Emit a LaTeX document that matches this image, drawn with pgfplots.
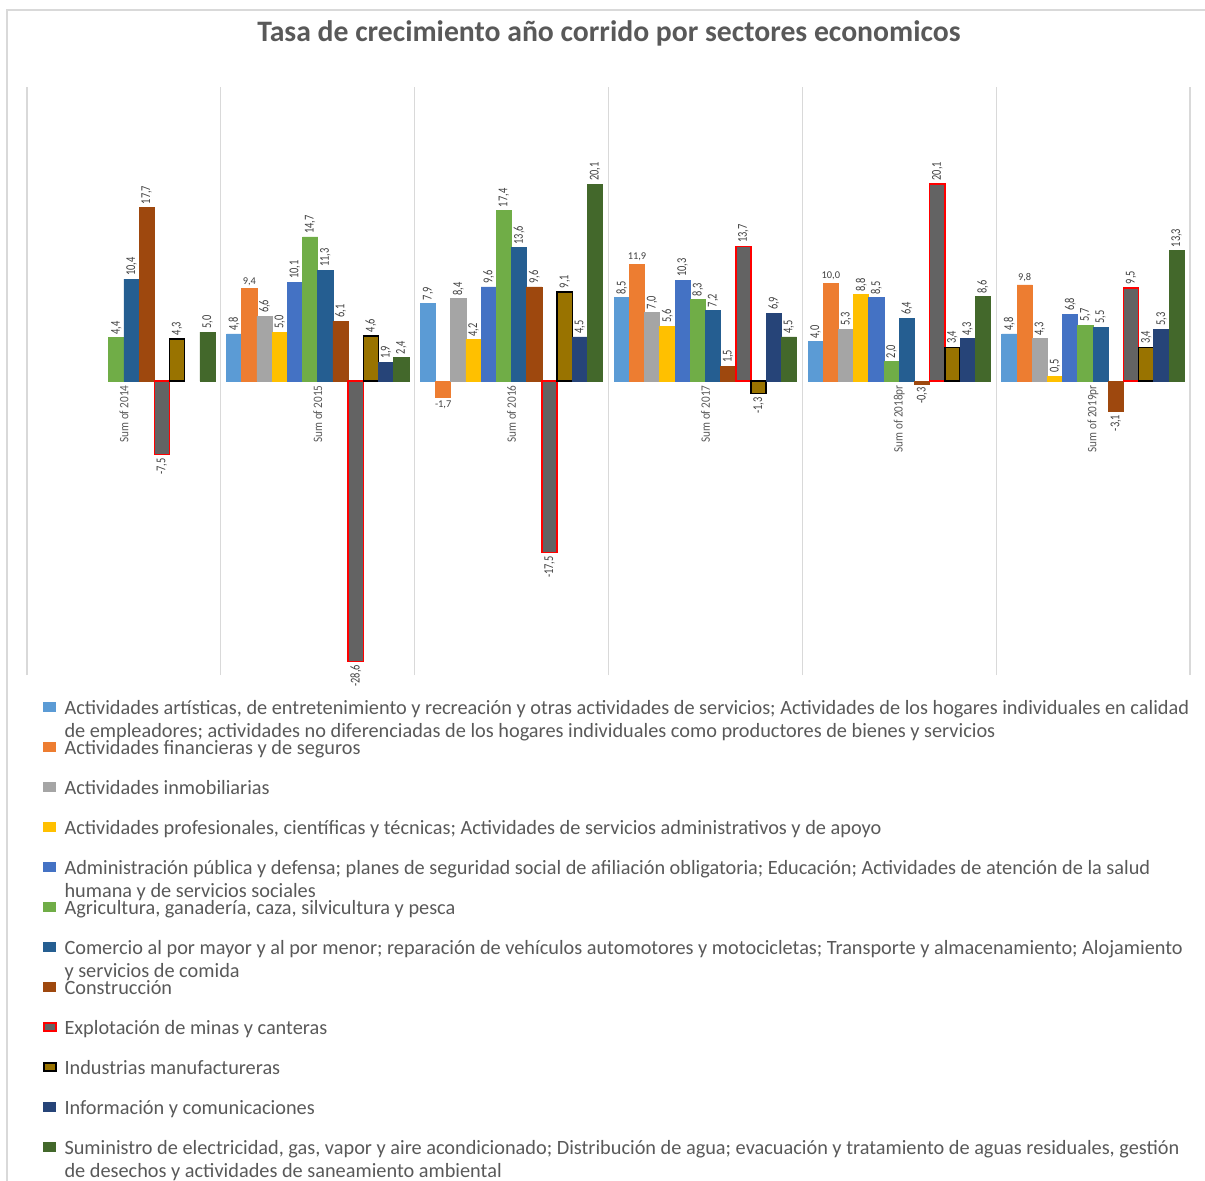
\documentclass[border=0pt]{standalone}
\usepackage{pgfplots}
\pgfplotsset{compat=1.18}
\usepackage{fontspec}
\setmainfont{Carlito}
\definecolor{c1}{HTML}{5B9BD5}
\definecolor{c2}{HTML}{ED7D31}
\definecolor{c3}{HTML}{A5A5A5}
\definecolor{c4}{HTML}{FFC000}
\definecolor{c5}{HTML}{4472C4}
\definecolor{c6}{HTML}{70AD47}
\definecolor{c7}{HTML}{255E91}
\definecolor{c8}{HTML}{9E480E}
\definecolor{c9}{HTML}{636363}
\definecolor{c10}{HTML}{997300}
\definecolor{c11}{HTML}{264478}
\definecolor{c12}{HTML}{43682B}
\definecolor{gridgray}{HTML}{D9D9D9}
\definecolor{titlegray}{HTML}{595959}
\definecolor{labelgray}{HTML}{404040}

\pgfplotsset{
  vl/.style={every node near coord/.append style={rotate=90, yscale=1.3, anchor=#1}},
  hl/.style={every node near coord/.append style={anchor=#1}},
}

\begin{document}
\begin{tikzpicture}
\path[use as bounding box] (0pt,0pt) rectangle (602.5pt,-590.5pt);
\draw[gridgray, line width=0.8pt] (3.5pt,-600pt) -- (3.5pt,-5pt) -- (610pt,-5pt);
\node[anchor=base, font=\fontsize{14.85}{17}\selectfont\bfseries, text=titlegray] at (304.5pt,-21pt) {Tasa de crecimiento año corrido por sectores economicos};
\begin{axis}[
  at={(13.5pt,-337.5pt)}, anchor=south west,
  width=581.5pt, height=294pt, scale only axis,
  xmin=-0.5, xmax=5.5, ymin=-30, ymax=30,
  clip=false,
  ybar=0pt, bar width=7.6pt,
  axis x line=middle, axis y line=none,
  axis line style={draw=none},
  xtick={0,1,2,3,4,5},
  xticklabels={Sum of 2014,Sum of 2015,Sum of 2016,Sum of 2017,Sum of 2018pr,Sum of 2019pr},
  xticklabel style={rotate=90, yscale=1.15, anchor=east, font=\fontsize{5.6}{6.5}\selectfont, text=titlegray, inner sep=2pt},
  major tick length=0pt, minor tick length=0pt,
  minor xtick={-0.5,0.5,...,5.5},
  xminorgrids=true,
  minor x grid style={gridgray, line width=0.6pt},
  ytick=\empty,
  nodes near coords={\pgfmathprintnumber[fixed, fixed zerofill, precision=1, use comma, assume math mode=true]{\pgfplotspointmeta}},
  every node near coord/.append style={font=\fontsize{5.2}{6.5}\selectfont, text=labelgray, inner sep=1.5pt},
  legend cell align=left,
  legend image code/.code={\draw[#1] (0pt,-2.1pt) rectangle (6pt,2.1pt);},
  legend style={at={(0.01376,-0.04252)}, anchor=north west, draw=none, fill=none,
    inner sep=0pt, outer sep=0pt, row sep=13pt, column sep=4pt,
    font=\fontsize{10.15}{11.5}\selectfont, text=titlegray,
    nodes={inner sep=0pt, text height=7pt, text depth=0pt}},
]
\addplot[bar shift=-41.8pt, fill=c1, draw=c1, vl=west] coordinates {(1,4.8) (2,7.9) (3,8.5) (4,4.0) (5,4.8)};
\addlegendentry{\begin{tabular}[t]{@{}l@{}}Actividades artísticas, de entretenimiento y recreación y otras actividades de servicios; Actividades de los hogares individuales en calidad\\ de empleadores; actividades no diferenciadas de los hogares individuales como productores de bienes y servicios\end{tabular}}
\addplot[bar shift=-34.2pt, fill=c2, draw=c2, hl=south] coordinates {(1,9.4) (3,11.9) (4,10.0) (5,9.8)};
\addlegendentry{Actividades financieras y de seguros}
\addplot[bar shift=-34.2pt, fill=c2, draw=c2, hl=north, forget plot] coordinates {(2,-1.7)};
\addplot[bar shift=-26.6pt, fill=c3, draw=c3, vl=west] coordinates {(1,6.6) (2,8.4) (3,7.0) (4,5.3) (5,4.3)};
\addlegendentry{Actividades inmobiliarias}
\addplot[bar shift=-19pt, fill=c4, draw=c4, vl=west] coordinates {(1,5.0) (2,4.2) (3,5.6) (4,8.8) (5,0.5)};
\addlegendentry{Actividades profesionales, científicas y técnicas; Actividades de servicios administrativos y de apoyo}
\addplot[bar shift=-11.4pt, fill=c5, draw=c5, vl=west] coordinates {(1,10.1) (2,9.6) (3,10.3) (4,8.5) (5,6.8)};
\addlegendentry{\begin{tabular}[t]{@{}l@{}}Administración pública y defensa; planes de seguridad social de afiliación obligatoria; Educación; Actividades de atención de la salud\\ humana y de servicios sociales\end{tabular}}
\addplot[bar shift=-3.8pt, fill=c6, draw=c6, vl=west] coordinates {(0,4.4) (1,14.7) (2,17.4) (3,8.3) (4,2.0) (5,5.7)};
\addlegendentry{Agricultura, ganadería, caza, silvicultura y pesca}
\addplot[bar shift=3.8pt, fill=c7, draw=c7, vl=west] coordinates {(0,10.4) (1,11.3) (2,13.6) (3,7.2) (4,6.4) (5,5.5)};
\addlegendentry{\begin{tabular}[t]{@{}l@{}}Comercio al por mayor y al por menor; reparación de vehículos automotores y motocicletas; Transporte y almacenamiento; Alojamiento\\ y servicios de comida\end{tabular}}
\addplot[bar shift=11.4pt, fill=c8, draw=c8, vl=west] coordinates {(0,17.7) (1,6.1) (2,9.6) (3,1.5)};
\addlegendentry{Construcción}
\addplot[bar shift=11.4pt, fill=c8, draw=c8, vl=east, forget plot] coordinates {(4,-0.3) (5,-3.1)};
\addplot[bar shift=19pt, fill=c9, draw=red, line width=0.75pt, vl=west] coordinates {(3,13.7) (4,20.1) (5,9.5)};
\addlegendentry{Explotación de minas y canteras}
\addplot[bar shift=19pt, fill=c9, draw=red, line width=0.75pt, vl=east, forget plot] coordinates {(0,-7.5) (1,-28.6) (2,-17.5)};
\addplot[bar shift=26.6pt, fill=c10, draw=black, line width=0.75pt, vl=west] coordinates {(0,4.3) (1,4.6) (2,9.1) (4,3.4) (5,3.4)};
\addlegendentry{Industrias manufactureras}
\addplot[bar shift=26.6pt, fill=c10, draw=black, line width=0.75pt, vl=east, forget plot] coordinates {(3,-1.3)};
\addplot[bar shift=34.2pt, fill=c11, draw=c11, vl=west] coordinates {(1,1.9) (2,4.5) (3,6.9) (4,4.3) (5,5.3)};
\addlegendentry{Información y comunicaciones}
\addplot[bar shift=41.8pt, fill=c12, draw=c12, vl=west] coordinates {(0,5.0) (1,2.4) (2,20.1) (3,4.5) (4,8.6) (5,13.3)};
\addlegendentry{\begin{tabular}[t]{@{}l@{}}Suministro de electricidad, gas, vapor y aire acondicionado; Distribución de agua; evacuación y tratamiento de aguas residuales, gestión\\ de desechos y actividades de saneamiento ambiental\end{tabular}}
\end{axis}
\end{tikzpicture}
\end{document}
